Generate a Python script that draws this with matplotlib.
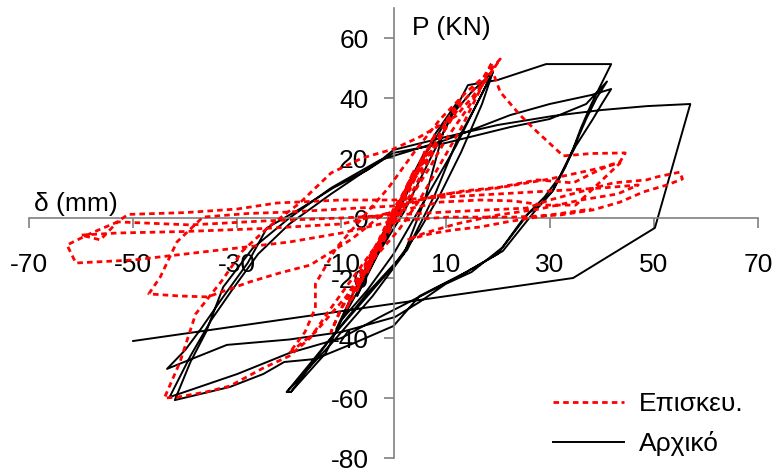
import matplotlib
matplotlib.use("Agg")
import matplotlib.pyplot as plt

plt.rcParams['font.family'] = ['Liberation Sans', 'DejaVu Sans']
plt.rcParams['axes.unicode_minus'] = False

# Αρχικό (original specimen) - δ (mm), P (KN)
orig_d = [0, 3, 6, 4, 1, -3, -7, -5, -1, 3, 8, 12, 10, 6, 2, -3, -8, -11, -8, -4,
          0, 5, 10, 15, 19.1, 16, 12, 8, 4, 0, -5, -10, -13, -19.7, -20.5, -12, -5,
          2.6, 8, 12, 16, 19.1, 17, 13, 9, 5, 0, -6, -12, -19.7, -20.5, -12, -4, 2,
          6, 9.5, 14.3, 20, 29.3, 41.8, 40, 38, 36, 34.5, 32, 30.6, 28, 26, 21, 15,
          10, 5, 0.3, -10, -20, -32, -43.5, -40, -37, -33, -28, -24.3, -18, -11.6,
          -5, 0, 10, 22.4, 30, 37, 41, 39, 37, 35, 33, 30.6, 27, 21, 14, 5, 0,
          -8, -15, -21, -25, -31.4, -42, -39, -36, -32.7, -27, -20, -12, -2.6, 10,
          22.4, 30, 38, 41.8, 40, 38.3, 35, 32, 29, 25, 20, 12, 3, -2.6, -10, -20,
          -30, -43, -39, -35, -31, -26, -20, -12, -2.6, 0, 10, 20, 30.6, 40, 48.7,
          57, 50.2, 34.5, -50]
orig_p = [0, 12, 22, 14, 2, -12, -26, -18, -4, 10, 28, 38, 30, 16, 2, -12, -28, -37, -26, -12,
          2, 18, 32, 42, 48.7, 38, 24, 12, 0, -12, -24, -34, -45, -58, -58, -40, -25,
          -10.7, 8, 25, 38, 48.7, 38, 22, 8, -4, -16, -28, -40, -58, -58, -42, -26, -12,
          6, 28.3, 44.3, 46, 51.3, 51.3, 45, 38, 30, 23, 14, 9.3, 4, 1.7, -9.7, -18,
          -22, -28, -33, -38, -40.5, -42.3, -50.3, -44, -37, -27, -15, -3.3, 3, 10,
          16, 21.7, 25, 30.3, 33, 38, 45.5, 40, 33, 25, 17, 9, 2, -11, -18, -26, -36,
          -42, -47, -48, -52, -56.3, -60.7, -48, -38, -23, -10, 0, 10, 19.3, 26,
          34.3, 38, 41, 43, 38, 33, 24, 14, 7, 0, -12, -20, -28, -33, -40, -45,
          -52, -59.7, -46, -34, -24, -12, -2, 8, 19, 22.7, 27, 31, 34, 36, 37.3,
          38, -3.3, -20, -41]

# Επισκευ. (repaired specimen)
rep_d = [0, 1.5, 3, 1, -1, -3, -1, 1, 4, 2, 0, -2, -5, -3, 0, 3, 6, 4, 1, -2,
         -4, -7, -5, -2, 1, 4, 8, 6, 3, 0, -3, -6, -9, -7, -4, -1, 2, 6, 10, 13,
         10, 7, 4, 1, -2, -6, -10, -12, -10, -7, -3, 0, 4, 9, 13, 17, 19, 17, 13, 9,
         5, 1, -4, -9, -15, -20, -17, -15, -15, -11, -6, -1, 4, 9, 14, 18, 20.5, 17,
         14, 10, 7, 3, -2, -7, -12, -16, -20, -25, -31.4, -36, -41.5, -44, -41, -38,
         -33, -29, -24, -18, -12, -6, 0, 5, 9, 12, 15, 19, 20.5, 24.3, 27.6, 32.6,
         38, 44.5, 43.5, 41.6, 38.3, 34.5, 27.6, 20.5, 13.4, 7, 2, -3, -8, -16,
         -21.8, -27.6, -35.7, -41, -47, -44.8, -41.6, -36.6, -28, -20, -10, 0, 10,
         20, 30, 38, 43.5, 35, 28.8, 23, 16.6, 9, 0, -10, -25, -40, -53, -60,
         -56.3, -53, -39, -25, -10, 0, 10, 25.6, 30, 35.8, 42.2, 48.6, 50.6, 55,
         55.5, 52.5, 48, 43.5, 38.3, 32, 23, 10.3, 0, -10, -20, -30, -40, -50,
         -61, -62.7, -58, -53, -51, -40, -30, -22.4, -10, 0, 10, 20, 30, 40,
         47, 43, 36, 28, 20, 12, 6, 2.6, 7, 11.4, 16.6, 21.8, 30, 38]
rep_p = [0, 6, 12, 4, -4, -11, -3, 5, 16, 8, 1, -6, -18, -10, 0, 10, 22, 14, 4, -6,
         -12, -24, -17, -6, 5, 14, 28, 20, 9, 0, -9, -18, -30, -24, -12, -2, 8, 18, 32, 40,
         30, 20, 10, 1, -8, -20, -30, -38, -30, -20, -8, 3, 14, 27, 38, 46, 52, 44, 30, 18,
         6, -4, -14, -26, -38, -45, -38, -30, -22, -10, 0, 10, 22, 33, 42, 48, 53, 44,
         36, 26, 17, 6, -6, -18, -30, -40, -46, -50, -56, -58, -59.7, -60, -48, -32,
         -21, -11, -3, 5, 15, 20, 23, 27, 31, 34, 40, 49, 42, 34.3, 28.7, 20.7,
         21.5, 21.7, 18.7, 17.7, 15, 11.7, 12.7, 10.3, 9, 7, 4, 0, -7, -15.7,
         -18.3, -21.3, -26.3, -26, -25.3, -19.7, -8, 0.3, 1.5, 2, 3, 4, 8,
         10, 13, 16, 18.3, 4.3, 4.3, 5.7, 6, 5.3, 2, -2, -3.5, -4.5, -5, -5.7,
         -7.3, -1.3, -2.3, -1, 0, 1, 2, 3.3, 6, 8.7, 11.7, 12.7, 13.7, 15.3,
         13, 11, 8.7, 5.3, 2.7, 1, 0.3, 0.3, -1, -5, -8, -10, -12, -14,
         -15, -9, -5, -1.3, 1.2, 1.8, 3, 5, 6, 6, 7, 8, 9, 10,
         11, 8, 6, 3, 1, -2, -5, -7.3, -5.3, -4, -3, -1.3, 1, 3]

fig = plt.figure(figsize=(7.76, 4.73), dpi=100)
ax = fig.add_axes([29/776, 15/473, 729/776, 450/473])

l_orig, = ax.plot(orig_d, orig_p, color='black', lw=1.4, label='Αρχικό', zorder=2)
l_rep, = ax.plot(rep_d, rep_p, color='red', lw=2, dashes=(2, 1.5), label='Επισκευ.', zorder=3)

ax.set_xlim(-70, 70)
ax.set_ylim(-80, 70)
ax.set_xticks([-70, -50, -30, -10, 10, 30, 50, 70])
ax.set_yticks([-80, -60, -40, -20, 0, 20, 40, 60])

ax.spines['left'].set_position(('data', 0))
ax.spines['bottom'].set_position(('data', 0))
ax.spines['right'].set_visible(False)
ax.spines['top'].set_visible(False)
for s in ['left', 'bottom']:
    ax.spines[s].set_color('#808080')
    ax.spines[s].set_linewidth(1.2)
ax.tick_params(axis='both', direction='out', length=7, width=1.2, color='#808080',
               labelsize=19)
ax.tick_params(axis='x', pad=18)
ax.tick_params(axis='y', pad=11)

ax.text(-69, 0.8, 'δ (mm)', fontsize=19, ha='left', va='bottom')
ax.text(3.5, 63.5, 'P (KN)', fontsize=19, ha='left', va='center')

ax.legend(handles=[l_rep, l_orig], loc='lower left', bbox_to_anchor=(553/776, 17/473),
          bbox_transform=fig.transFigure, frameon=False, fontsize=19,
          handlelength=2.7, handletextpad=0.55, labelspacing=0.55,
          borderpad=0, borderaxespad=0)

fig.savefig('out.png', dpi=100)
